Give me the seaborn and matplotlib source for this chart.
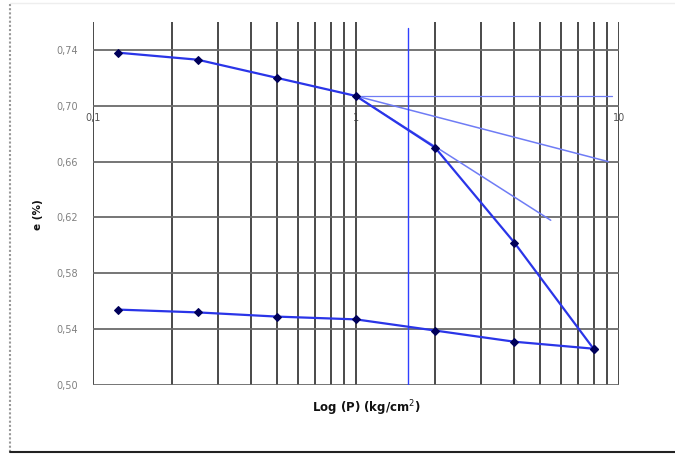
import matplotlib
matplotlib.use("Agg")
import matplotlib.pyplot as plt
import seaborn as sns
import pandas as pd
import numpy as np
from matplotlib.lines import Line2D
from matplotlib.ticker import FixedLocator, NullLocator

# ---- data ----
p_load = [0.125, 0.25, 0.5, 1, 2, 4, 8]
e_load = [0.738, 0.733, 0.720, 0.707, 0.670, 0.602, 0.526]
p_unload = [8, 4, 2, 1, 0.5, 0.25, 0.125]
e_unload = [0.526, 0.531, 0.539, 0.547, 0.549, 0.552, 0.554]

horiz_x = [1, 9.4]
horiz_y = [0.707, 0.707]
bisect_x = [1, 9.1]
bisect_y = [0.707, 0.660]
tangent_x = [1, 5.5]
tangent_y = [0.707, 0.618]
pc_x = [1.58, 1.58]
pc_y = [0.50, 0.756]

y_ticks = [0.50, 0.54, 0.58, 0.62, 0.66, 0.70, 0.74]
y_ticklabels = ["0,50", "0,54", "0,58", "0,62", "0,66", "0,70", "0,74"]
x_major = [0.1, 1, 10]
x_ticklabels = ["0,1", "1", "10"]
x_grid = [0.1, 0.2, 0.3, 0.4, 0.5, 0.6, 0.7, 0.8, 0.9,
          1, 2, 3, 4, 5, 6, 7, 8, 9, 10]

sns.set_style("white")
plt.rcParams['font.family'] = ['DejaVu Sans']

fig = plt.figure(figsize=(6.75, 4.55), dpi=100)
ax = fig.add_axes([93/675, 1-385/455, (619-93)/675, (385-22)/455])

ax.set_xscale("log")
ax.set_xlim(0.1, 10)
ax.set_ylim(0.50, 0.76)

# grid
for gx in x_grid:
    ax.axvline(gx, color="#3a3a3a", lw=1.3, zorder=1)
for gy in y_ticks:
    ax.axhline(gy, color="#6a6a6a", lw=1.3, zorder=1)

main_col = "#2a35e8"
thin_col = "#6f7cf5"

def thin(x, y, color, lw):
    sns.lineplot(x=x, y=y, ax=ax, color=color, lw=lw, sort=False,
                 estimator=None, errorbar=None, zorder=3)

thin(horiz_x, horiz_y, thin_col, 0.9)
thin(bisect_x, bisect_y, thin_col, 1.1)
thin(tangent_x, tangent_y, thin_col, 1.1)
thin(pc_x, pc_y, "#3040ff", 1.0)

df_load = pd.DataFrame({"p": p_load, "e": e_load})
df_unload = pd.DataFrame({"p": p_unload, "e": e_unload})
for df in (df_load, df_unload):
    sns.lineplot(data=df, x="p", y="e", ax=ax, color=main_col, lw=1.6,
                 marker="D", markersize=4.2, markerfacecolor="#00005a",
                 markeredgecolor="#00005a", sort=False, estimator=None,
                 errorbar=None, zorder=4)

# axes: x axis crosses at 0.70
for s in ["top", "right", "left", "bottom"]:
    ax.spines[s].set_visible(False)
ax.spines["bottom"].set_position(("data", 0.70))

ax.xaxis.set_major_locator(FixedLocator(x_major))
ax.xaxis.set_minor_locator(NullLocator())
ax.set_xticklabels(x_ticklabels)
ax.tick_params(axis="x", length=0, pad=5, labelsize=7, labelcolor="#555555")

ax.set_yticks(y_ticks)
ax.set_yticklabels(y_ticklabels)
ax.tick_params(axis="y", length=0, pad=11, labelsize=7, labelcolor="#808080")

ax.set_xlabel("")
ax.set_ylabel("")
fig.text(366/675, 1-408/455, "Log (P) (kg/cm$^2$)", ha="center", va="center",
         fontsize=8.5, fontweight="bold", color="#111111")
fig.text(38/675, 1-215/455, "e (%)", ha="center", va="center", rotation=90,
         fontsize=7.5, fontweight="bold", color="#111111")

# outer chart frame
fig.add_artist(Line2D([10/675, 10/675], [1-4/455, 1-452/455],
                      transform=fig.transFigure, color="#999999", lw=1.5, ls=(0, (1, 1))))
fig.add_artist(Line2D([10/675, 1.0], [1-452/455, 1-452/455],
                      transform=fig.transFigure, color="#222222", lw=1.5))
fig.add_artist(Line2D([10/675, 1.0], [1-3/455, 1-3/455],
                      transform=fig.transFigure, color="#eeeeee", lw=1.0))

fig.savefig("out.png", dpi=100)
